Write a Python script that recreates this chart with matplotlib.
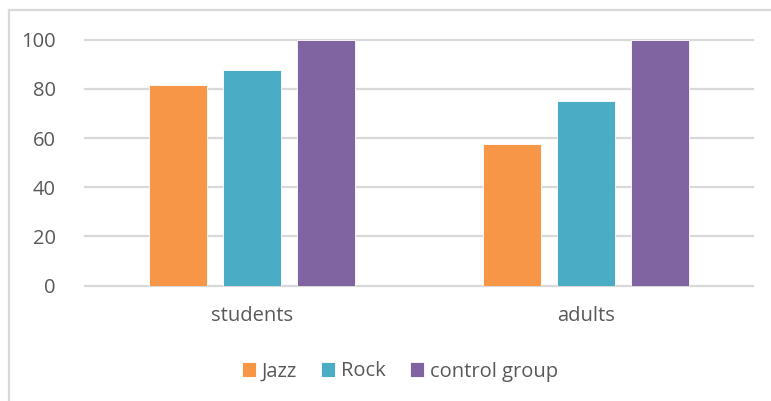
import numpy as np
import matplotlib
matplotlib.use("Agg")
import matplotlib.pyplot as plt
from matplotlib.lines import Line2D

groups = ["students", "adults"]
series = ["Jazz", "Rock", "control group"]
jazz = [81.5, 57.5]
rock = [87.5, 75.0]
control = [100, 100]
yticks = [0, 20, 40, 60, 80, 100]

COLORS = ["#F79646", "#4BACC6", "#8064A2"]
TEXT = "#595959"
GRID = "#D9D9D9"

plt.rcParams["font.family"] = ["Open Sans", "DejaVu Sans"]

W, H = 771, 401
fig = plt.figure(figsize=(W / 100, H / 100), dpi=100)
ax = fig.add_axes([85 / W, (H - 285.5) / H, 668 / W, 245.8 / H])

x = np.arange(len(groups))
bw = 58 / 334
step = 74 / 334
for i, (name, vals) in enumerate(zip(series, [jazz, rock, control])):
    ax.bar(x + (i - 1) * step, vals, width=bw, color=COLORS[i],
           edgecolor="white", linewidth=0.6, label=name, zorder=3)

ax.set_xlim(-0.5, 1.5)
ax.set_ylim(0, 100)
ax.set_yticks(yticks)
ax.set_xticks(x)
ax.set_xticklabels(groups)
ax.tick_params(axis="y", length=0, pad=21, labelsize=14.5, labelcolor=TEXT)
ax.tick_params(axis="x", length=0, pad=15, labelsize=14.5, labelcolor=TEXT)
ax.yaxis.grid(True, color=GRID, linewidth=1.6, zorder=0)
for gl in ax.get_ygridlines():
    gl.set_clip_on(False)
for s in ax.spines.values():
    s.set_visible(False)
ax.set_facecolor("none")

leg = fig.legend(loc="center", bbox_to_anchor=(400 / W, 1 - 371.5 / H), ncol=3,
                 frameon=False, fontsize=14.5, handlelength=0.7, handleheight=0.7,
                 handletextpad=0.3, columnspacing=1.2)
for t in leg.get_texts():
    t.set_color(TEXT)

# chart frame (left and top edges visible)
fig.add_artist(Line2D([8.5 / W, 8.5 / W], [0, 1 - 9.5 / H], color=GRID, linewidth=1.6))
fig.add_artist(Line2D([8.5 / W, 1], [1 - 9.5 / H, 1 - 9.5 / H], color=GRID, linewidth=1.6))

fig.savefig("out.png", dpi=100, facecolor="white")
